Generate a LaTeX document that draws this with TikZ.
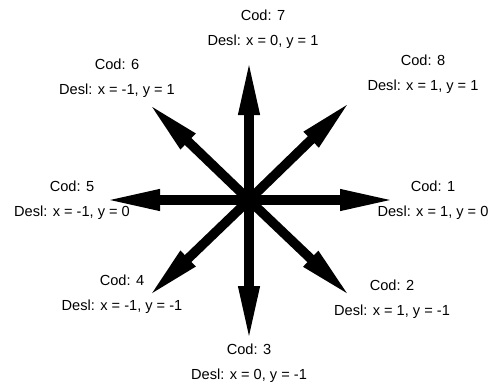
\documentclass[tikz,border=0pt]{standalone}
\usepackage{fontspec}
\setmainfont{Liberation Sans}
\usetikzlibrary{positioning, arrows.meta}

\begin{document}
\begin{tikzpicture}[x=1pt, y=-1pt,
  font=\fontsize{14.6}{25.5}\selectfont,
  dir/.style={line width=9.5pt, -{Triangle[length=57pt, width=19pt]}},
  lbl/.style={align=center, inner sep=0pt}]
  \useasboundingbox (0,0) rectangle (493,383);
  % centre and arrow tips
  \coordinate (c) at (249,200);
  \coordinate (t1) at (397,200);
  \coordinate (t2) at (352,298);
  \coordinate (t3) at (249,343);
  \coordinate (t4) at (147,298);
  \coordinate (t5) at (103,200);
  \coordinate (t6) at (147,102);
  \coordinate (t7) at (249,58);
  \coordinate (t8) at (352,100);
  \foreach \k in {1,...,8}
    \draw[dir] (c) -- (t\k);
  % codes
  \node[lbl] (l1) at (433,200) {Cod: 1\\Desl: x = 1, y = 0};
  \node[lbl] (l2) at (392,299) {Cod: 2\\Desl: x = 1, y = -1};
  \node[lbl] (l3) at (249,363) {Cod: 3\\Desl: x = 0, y = -1};
  \node[lbl] (l4) at (122,294) {Cod: 4\\Desl: x = -1, y = -1};
  \node[lbl] (l5) at (72,200) {Cod: 5\\Desl: x = -1, y = 0};
  \node[lbl] (l6) at (117,78) {Cod: 6\\Desl: x = -1, y = 1};
  \node[lbl] (l7) at (263,29) {Cod: 7\\Desl: x = 0, y = 1};
  \node[lbl] (l8) at (423,74) {Cod: 8\\Desl: x = 1, y = 1};
\end{tikzpicture}
\end{document}
